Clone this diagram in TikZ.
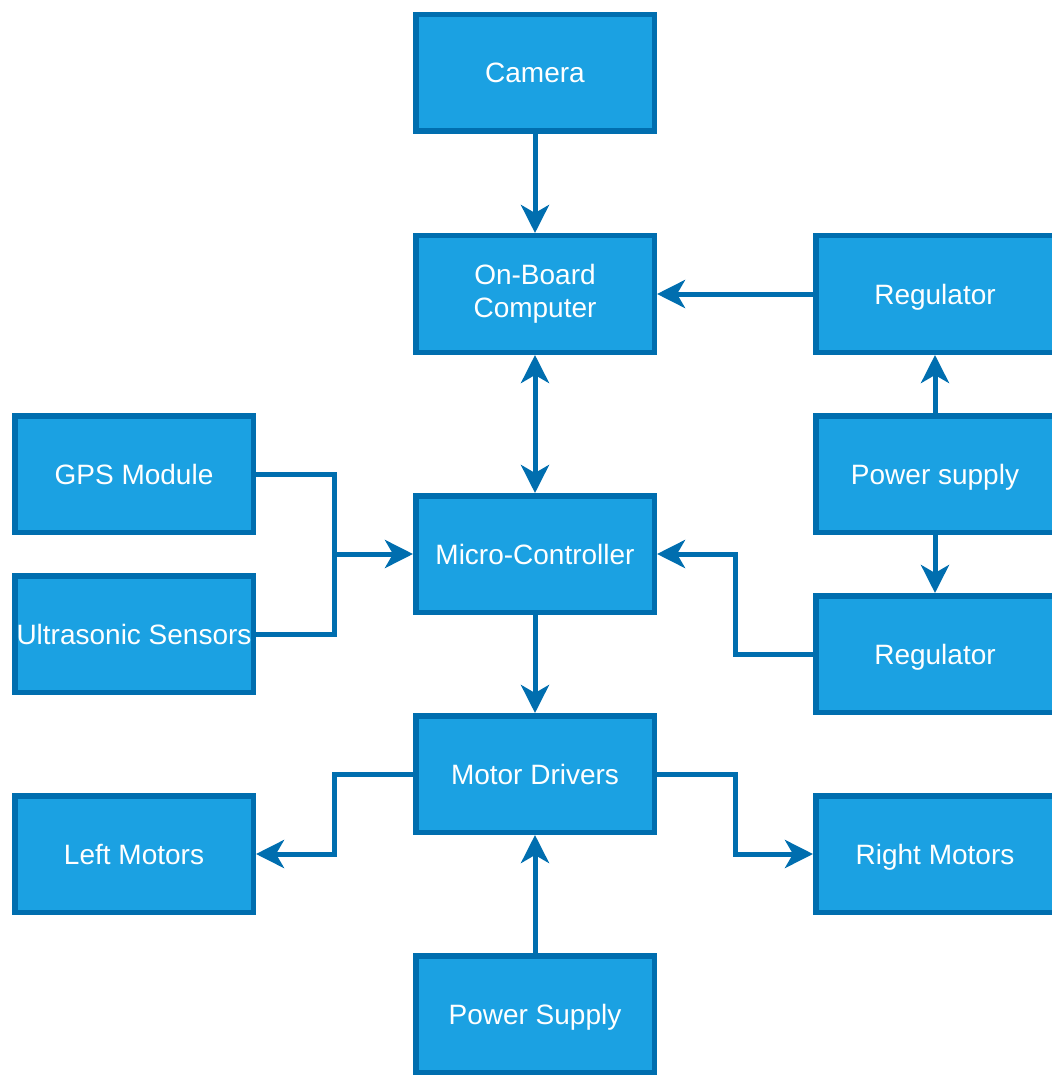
\documentclass[tikz,border=0pt]{standalone}
\usepackage{fontspec}
\setmainfont{Liberation Sans}
\usetikzlibrary{arrows.meta}
\definecolor{boxfill}{HTML}{1BA1E2}
\definecolor{boxline}{HTML}{006EAF}
\begin{document}
\begin{tikzpicture}[x=1pt,y=-1pt,
	block/.style={draw=boxline,fill=boxfill,line width=5.5pt,minimum width=238.5pt,minimum height=116.5pt,inner sep=0pt,text=white,font=\fontsize{28}{33}\selectfont,align=center},
	oneline/.style={block,text height=20pt,text depth=0pt},
	wire/.style={draw=boxline,line width=5pt},
	>={Stealth[length=28pt,width=28pt,inset=8pt]}]
	\useasboundingbox (0,0) rectangle (1051,1075);
	\node[oneline] (cam) at (535,73) {Camera};
	\node[block] (obc) at (535,294) {On-Board\\Computer};
	\node[oneline] (rega) at (935,294) {Regulator};
	\node[oneline] (psa) at (935,474) {Power supply};
	\node[oneline] (regb) at (935,654) {Regulator};
	\node[oneline] (gps) at (134,474) {GPS Module};
	\node[oneline] (us) at (134,634) {Ultrasonic Sensors};
	\node[oneline] (mc) at (535,554) {Micro-Controller};
	\node[oneline] (md) at (535,774) {Motor Drivers};
	\node[oneline] (lm) at (134,854) {Left Motors};
	\node[oneline] (rm) at (935,854) {Right Motors};
	\node[oneline] (psb) at (535,1014) {Power Supply};
	\coordinate (jl) at (334,554);
	\coordinate (jr) at (735,554);
	\coordinate (jlm) at (334,854);
	\coordinate (jrm) at (735,854);
	\draw[wire,->] (cam) -- (obc);
	\draw[wire,->] (rega) -- (obc);
	\draw[wire,<->] (obc) -- (mc);
	\draw[wire,->] (psa) -- (rega);
	\draw[wire,->] (psa) -- (regb);
	\draw[wire,->] (gps.east) -| (jl) -- (mc.west);
	\draw[wire] (us.east) -| (jl);
	\draw[wire,->] (regb.west) -| (jr) -- (mc.east);
	\draw[wire,->] (mc) -- (md);
	\draw[wire,->] (md.west) -| (jlm) -- (lm.east);
	\draw[wire,->] (md.east) -| (jrm) -- (rm.west);
	\draw[wire,->] (psb) -- (md);
\end{tikzpicture}
\end{document}
